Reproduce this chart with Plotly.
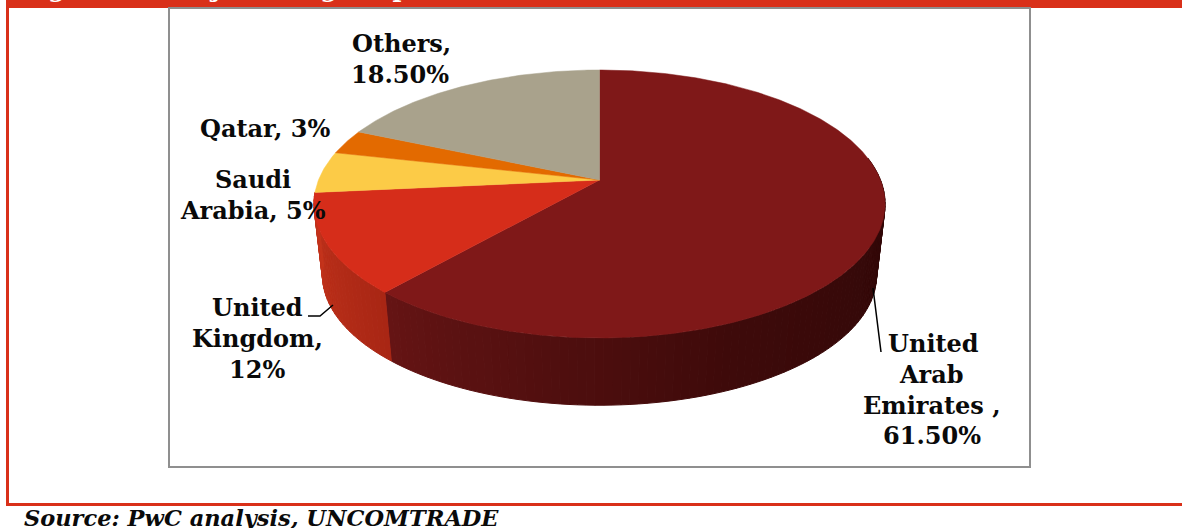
import numpy as np
import plotly.graph_objects as go

# ---- data ----
categories = ["United Arab Emirates", "United Kingdom", "Saudi Arabia", "Qatar", "Others"]
shares = [61.5, 12, 5, 3, 18.5]
label_lines = [
    ["United", "Arab", "Emirates ,", "61.50%"],
    ["United", "Kingdom,", "12%"],
    ["Saudi", "Arabia, 5%"],
    ["Qatar, 3%"],
    ["Others,", "18.50%"],
]
colors = ["#7f1818", "#d62d1a", "#fccb47", "#e36a00", "#a9a28c"]
title_text = "Figure 12: Major foreign export destinations"
source_text = "Source: PwC analysis, UNCOMTRADE"

# ---- style / layout ----
W, H = 1182, 528
RED = "#d93019"
FONT = "DejaVu Serif"
FS = 24
CX, CY = 599.5, 180.0
A_X, A_Y, K = 281.0, 129.7, 0.179   # perspective projection of the disc
BASE_CY, BASE_S = 252.0, 0.97       # lower rim of the disc
label_pos = [
    [(933, 343), (931, 374), (932, 405), (932, 435)],
    [(257, 307), (257, 338), (257, 369)],
    [(253, 179), (253, 210)],
    [(265, 128)],
    [(401, 43), (400, 74)],
]
wall_shades = {
    0: [(0.0, "#2c0707"), (0.55, "#3e0a0a"), (1.0, "#651414")],
    1: [(0.0, "#a92614"), (1.0, "#c4341c")],
}


def project(theta):
    u, v = np.sin(theta), np.cos(theta)
    d = 1 + K * v
    return CX + A_X * u / d, CY - A_Y * v / d


def lower(x, y):
    return CX + (x - CX) * BASE_S, BASE_CY + (y - CY) * BASE_S


def hex_mix(stops, t):
    for (t0, c0), (t1, c1) in zip(stops, stops[1:]):
        if t <= t1:
            f = (t - t0) / (t1 - t0)
            a = [int(c0[i:i + 2], 16) for i in (1, 3, 5)]
            b = [int(c1[i:i + 2], 16) for i in (1, 3, 5)]
            m = [round(p + (q - p) * f) for p, q in zip(a, b)]
            return "#%02x%02x%02x" % tuple(m)
    return stops[-1][1]


edges = np.cumsum([0] + shares) / sum(shares) * 2 * np.pi
fig = go.Figure()

# side wall of the visible slices
for i, shades in wall_shades.items():
    t0 = max(edges[i], np.radians(80))
    t1 = edges[i + 1]
    n = max(2, int(np.degrees(t1 - t0) / 1.5))
    ts = np.linspace(t0, t1, n + 1)
    for a, b in zip(ts[:-1], ts[1:]):
        xa, ya = project(a)
        xb, yb = project(b)
        xc, yc = lower(xb, yb)
        xd, yd = lower(xa, ya)
        col = hex_mix(shades, ((a + b) / 2 - t0) / (t1 - t0))
        fig.add_trace(go.Scatter(
            x=[xa, xb, xc, xd, xa], y=[ya, yb, yc, yd, ya], mode="lines",
            fill="toself", fillcolor=col, line=dict(color=col, width=1),
            hoverinfo="skip", showlegend=False))

# top face
for i, name in enumerate(categories):
    ts = np.linspace(edges[i], edges[i + 1], max(8, int(shares[i] * 6)))
    xs, ys = project(ts)
    fig.add_trace(go.Scatter(
        x=[CX, *xs, CX], y=[CY, *ys, CY], mode="lines", fill="toself",
        fillcolor=colors[i], line=dict(color=colors[i], width=0.5),
        name=name, text=f"{name}: {shares[i]}%", hoverinfo="text", showlegend=False))

# leader lines
for lx, ly in [([873, 881], [288, 352]), ([308, 320, 333], [316, 316, 305])]:
    fig.add_trace(go.Scatter(x=lx, y=ly, mode="lines", line=dict(color="black", width=1.5),
                             hoverinfo="skip", showlegend=False))

annotations = []
for lines, poss in zip(label_lines, label_pos):
    for line, (x, y) in zip(lines, poss):
        annotations.append(dict(x=x, y=y, text=f"<b>{line}</b>", showarrow=False, xanchor="center",
                                yanchor="middle", font=dict(family=FONT, size=FS, color="#0a0a0a")))
annotations.append(dict(xref="paper", yref="paper", x=20 / W, y=1, yanchor="bottom", xanchor="left",
                        showarrow=False, yshift=-5,
                        text=f"<b>{title_text}</b>", font=dict(family=FONT, size=FS, color="white")))
annotations.append(dict(x=22, y=518, yanchor="middle", xanchor="left", showarrow=False,
                        text=f"<b><i>{source_text}</i></b>", font=dict(family=FONT, size=22.5, color="#0a0a0a")))

shapes = [
    dict(type="rect", x0=6, x1=W, y0=0, y1=8, fillcolor=RED, line_width=0, layer="below"),
    dict(type="rect", x0=6, x1=9, y0=0, y1=505, fillcolor=RED, line_width=0, layer="below"),
    dict(type="rect", x0=6, x1=W, y0=503, y1=506, fillcolor=RED, line_width=0, layer="below"),
    dict(type="rect", x0=169, x1=1030, y0=8, y1=467, fillcolor="white",
         line=dict(color="#8f8f8f", width=2), layer="below"),
]

fig.update_layout(
    width=W, height=H, margin=dict(l=0, r=0, t=0, b=0), autosize=False,
    paper_bgcolor="white", plot_bgcolor="white", showlegend=False,
    xaxis=dict(range=[0, W], visible=False, fixedrange=True),
    yaxis=dict(range=[H, 0], visible=False, fixedrange=True),
    annotations=annotations, shapes=shapes,
)
fig.write_html("out.html", config={"displayModeBar": False},
               post_script="document.body.style.margin='0';document.body.style.overflow='hidden';")
